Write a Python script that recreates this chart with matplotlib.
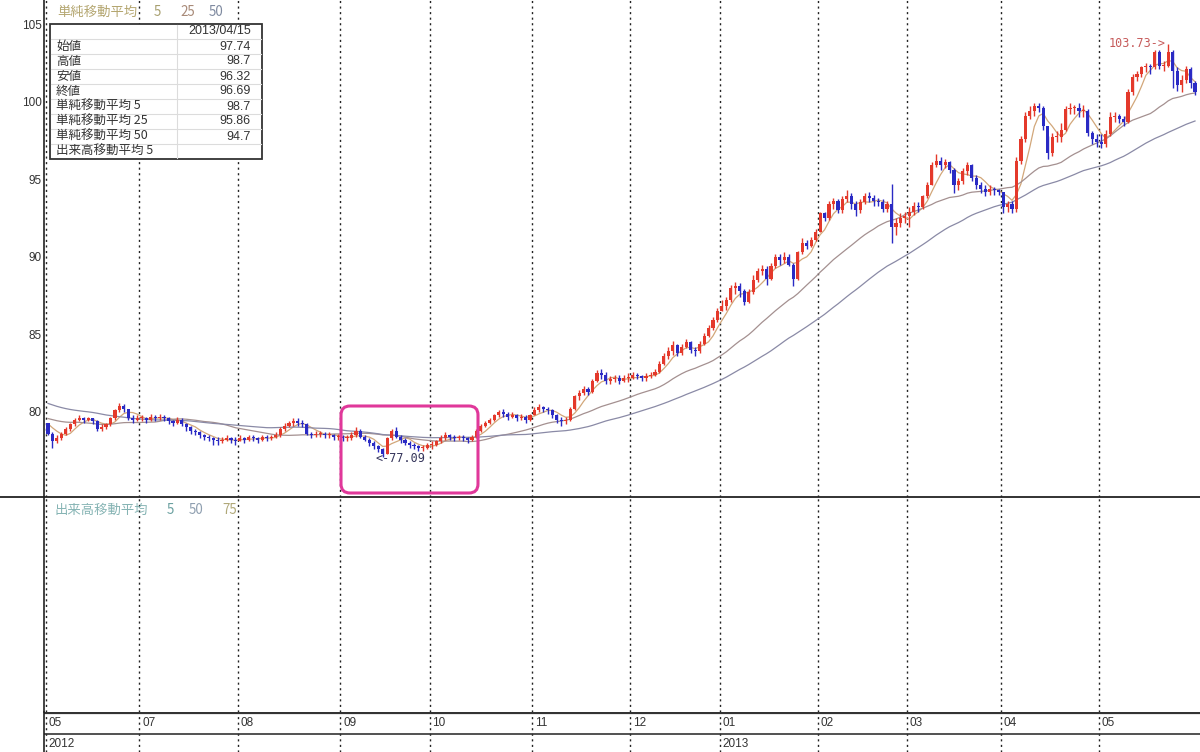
import numpy as np
import pandas as pd
import matplotlib
matplotlib.use('Agg')
import matplotlib.pyplot as plt
from matplotlib.patches import Rectangle, FancyBboxPatch

plt.rcParams['font.family'] = ['Noto Sans CJK JP', 'DejaVu Sans']

# closes before the window (only used to warm up the moving averages)
pre_close = [82.8, 83.0, 82.5, 82.3, 82.0, 81.8, 81.5, 81.3, 81.2, 81.4, 81.3, 81.8,
             82.0, 81.7, 81.9, 82.1, 81.9, 81.7, 81.3, 80.8, 80.6, 80.5, 80.6, 80.3,
             79.8, 79.9, 80.0, 79.9, 79.8, 79.6, 79.3, 79.8, 80.1, 80.2, 80.0, 79.9,
             79.5, 79.3, 79.2, 79.3, 79.4, 79.5, 79.4, 79.5, 79.6, 79.4, 79.4, 79.5, 79.3]

# daily close / high / low, month by month
c_jun = [78.6, 78.1, 78.3, 78.6, 78.9, 79.2, 79.5, 79.6, 79.5, 79.6, 79.4, 78.9, 79.0, 79.2, 79.6, 80.1, 80.4, 80.2, 79.6, 79.5, 79.6]
h_jun = [79.3, 78.7, 78.5, 78.7, 79.0, 79.3, 79.6, 79.8, 79.7, 79.7, 79.6, 79.5, 79.2, 79.3, 79.7, 80.2, 80.6, 80.5, 80.2, 79.8, 79.8]
l_jun = [78.5, 77.7, 78.0, 78.2, 78.5, 78.8, 79.1, 79.4, 79.3, 79.4, 79.2, 78.8, 78.8, 78.9, 79.1, 79.5, 80.0, 80.0, 79.5, 79.3, 79.4]

c_jul = [79.6, 79.5, 79.7, 79.6, 79.7, 79.6, 79.4, 79.3, 79.5, 79.2, 79.0, 78.8, 78.7, 78.5, 78.4, 78.3, 78.2, 78.1, 78.2, 78.3, 78.2, 78.1]
h_jul = [79.8, 79.7, 79.9, 79.8, 79.9, 79.8, 79.7, 79.5, 79.7, 79.6, 79.3, 79.1, 78.9, 78.8, 78.6, 78.5, 78.4, 78.4, 78.4, 78.5, 78.4, 78.4]
l_jul = [79.4, 79.3, 79.4, 79.4, 79.5, 79.4, 79.2, 79.1, 79.2, 79.1, 78.8, 78.6, 78.5, 78.3, 78.2, 78.1, 77.9, 77.9, 78.0, 78.1, 78.0, 77.9]

c_aug = [78.3, 78.2, 78.4, 78.3, 78.2, 78.4, 78.3, 78.4, 78.5, 78.9, 79.1, 79.3, 79.4, 79.3, 79.2, 78.6, 78.5, 78.6, 78.6, 78.5, 78.5, 78.4, 78.4]
h_aug = [78.5, 78.4, 78.5, 78.5, 78.4, 78.5, 78.5, 78.5, 78.7, 79.0, 79.3, 79.4, 79.6, 79.6, 79.5, 79.3, 78.7, 78.8, 78.8, 78.7, 78.7, 78.6, 78.6]
l_aug = [78.1, 78.0, 78.1, 78.1, 78.0, 78.1, 78.1, 78.2, 78.3, 78.4, 78.8, 79.0, 79.1, 79.1, 79.0, 78.5, 78.3, 78.4, 78.4, 78.3, 78.3, 78.2, 78.2]

c_sep = [78.3, 78.3, 78.5, 78.8, 78.4, 78.2, 78.0, 77.8, 77.6, 77.3, 78.3, 78.8, 78.4, 78.2, 78.0, 77.9, 77.8, 77.7, 77.7, 77.9]
h_sep = [78.5, 78.5, 78.7, 79.0, 78.9, 78.5, 78.3, 78.1, 77.9, 77.7, 78.4, 78.9, 79.0, 78.5, 78.3, 78.1, 78.0, 77.9, 77.9, 78.0]
l_sep = [78.1, 78.1, 78.2, 78.4, 78.3, 78.1, 77.8, 77.6, 77.4, 77.09, 77.3, 78.2, 78.3, 78.0, 77.9, 77.7, 77.6, 77.5, 77.5, 77.6]

c_oct = [77.9, 78.1, 78.3, 78.5, 78.4, 78.3, 78.4, 78.3, 78.2, 78.4, 78.8, 79.1, 79.3, 79.5, 79.8, 80.0, 79.9, 79.7, 79.8, 79.6, 79.7, 79.5, 79.8]
h_oct = [78.1, 78.2, 78.5, 78.7, 78.6, 78.5, 78.5, 78.5, 78.4, 78.5, 78.9, 79.2, 79.4, 79.6, 79.9, 80.1, 80.2, 80.0, 80.0, 79.9, 79.9, 79.8, 79.9]
l_oct = [77.6, 77.8, 78.0, 78.2, 78.2, 78.1, 78.2, 78.1, 78.0, 78.1, 78.3, 78.7, 79.0, 79.2, 79.4, 79.7, 79.7, 79.5, 79.6, 79.4, 79.5, 79.3, 79.4]

c_nov = [80.1, 80.3, 80.2, 80.1, 79.8, 79.5, 79.4, 79.5, 80.2, 81.0, 81.2, 81.5, 81.3, 82.0, 82.5, 82.4, 82.0, 82.1, 82.2, 82.0, 82.2, 82.2]
h_nov = [80.3, 80.5, 80.4, 80.3, 80.2, 79.9, 79.7, 79.7, 80.3, 81.1, 81.4, 81.7, 81.6, 82.1, 82.7, 82.8, 82.6, 82.3, 82.4, 82.4, 82.4, 82.5]
l_nov = [79.8, 80.0, 80.0, 79.9, 79.6, 79.3, 79.1, 79.2, 79.4, 80.1, 80.8, 81.1, 81.1, 81.2, 81.9, 82.1, 81.8, 81.8, 81.9, 81.8, 81.9, 81.9]

c_dec = [82.4, 82.3, 82.2, 82.3, 82.4, 82.6, 83.1, 83.6, 83.9, 84.3, 83.8, 84.2, 84.5, 84.0, 83.9, 84.4, 84.9, 85.4, 85.9, 86.5]
h_dec = [82.6, 82.5, 82.4, 82.5, 82.6, 82.8, 83.3, 83.8, 84.2, 84.6, 84.4, 84.4, 84.7, 84.6, 84.2, 84.6, 85.1, 85.6, 86.1, 86.7]
l_dec = [82.1, 82.1, 82.0, 82.0, 82.2, 82.3, 82.5, 83.0, 83.4, 83.7, 83.6, 83.7, 84.1, 83.8, 83.6, 83.8, 84.3, 84.8, 85.3, 85.8]

c_jan = [86.8, 87.2, 88.0, 88.1, 87.8, 87.1, 87.7, 88.5, 89.1, 89.2, 88.6, 89.4, 90.0, 89.8, 90.0, 89.5, 88.6, 90.3, 90.9, 90.7, 91.1, 91.6]
h_jan = [87.2, 87.4, 88.2, 88.4, 88.3, 87.9, 87.9, 88.8, 89.3, 89.5, 89.4, 89.6, 90.2, 90.2, 90.3, 90.2, 89.6, 90.4, 91.2, 91.1, 91.3, 91.8]
l_jan = [86.5, 86.6, 87.1, 87.6, 87.4, 86.9, 87.0, 87.6, 88.4, 88.8, 88.2, 88.5, 89.3, 89.5, 89.6, 89.4, 88.1, 88.5, 90.2, 90.5, 90.6, 91.0]

c_feb = [92.8, 92.5, 93.4, 93.6, 93.0, 93.7, 93.9, 93.4, 93.0, 93.5, 93.9, 93.8, 93.6, 93.5, 93.1, 93.4, 91.9, 92.2, 92.5, 92.6]
h_feb = [92.9, 92.9, 93.6, 93.8, 93.7, 93.9, 94.3, 94.1, 93.6, 93.7, 94.1, 94.2, 94.0, 93.8, 93.7, 93.6, 94.7, 92.5, 92.8, 92.9]
l_feb = [91.6, 92.3, 92.4, 93.1, 92.8, 92.8, 93.5, 93.1, 92.6, 92.8, 93.4, 93.5, 93.3, 93.3, 92.9, 92.9, 90.9, 91.4, 91.9, 92.2]

c_mar = [92.9, 93.3, 93.2, 93.9, 94.6, 95.9, 96.2, 95.9, 96.1, 95.6, 94.6, 94.9, 95.5, 95.9, 95.1, 94.6, 94.4, 94.2, 94.4, 94.3, 94.2]
h_mar = [93.2, 93.5, 93.5, 94.0, 94.8, 96.1, 96.6, 96.4, 96.3, 96.2, 95.7, 95.1, 95.7, 96.1, 96.0, 95.3, 94.8, 94.6, 94.6, 94.5, 94.4]
l_mar = [91.9, 92.7, 92.9, 93.1, 93.8, 94.6, 95.8, 95.6, 95.7, 95.4, 94.1, 94.3, 94.7, 95.3, 94.9, 94.4, 94.1, 93.9, 94.0, 94.0, 94.0]

c_apr = [93.2, 93.4, 93.1, 96.2, 97.6, 99.1, 99.4, 99.7, 99.6, 98.4, 96.7, 97.7, 97.7, 98.2, 99.5, 99.6, 99.6, 99.4, 99.4, 98.0, 97.6, 97.4]
h_apr = [93.9, 93.6, 93.6, 96.4, 97.8, 99.3, 99.7, 99.9, 99.9, 99.7, 97.8, 98.0, 98.1, 98.6, 99.7, 99.9, 99.8, 99.9, 99.8, 99.5, 98.1, 97.9]
l_apr = [92.8, 92.9, 92.8, 92.9, 96.0, 97.4, 98.9, 99.1, 99.3, 98.2, 96.3, 96.5, 97.4, 97.4, 98.1, 99.2, 99.2, 99.0, 99.0, 97.8, 97.3, 97.1]

c_may = [97.3, 97.9, 99.0, 99.1, 98.9, 98.7, 100.6, 101.6, 101.8, 102.2, 102.3, 102.2, 103.2, 102.3, 102.3, 103.2, 102.0, 101.1, 101.4, 102.1, 101.2, 100.6]
h_may = [97.9, 98.2, 99.3, 99.3, 99.2, 99.1, 100.8, 101.8, 102.0, 102.3, 102.5, 102.4, 103.3, 103.3, 102.6, 103.73, 103.3, 102.2, 101.7, 102.3, 102.2, 101.3]
l_may = [97.0, 97.1, 97.8, 98.7, 98.6, 98.4, 98.6, 100.4, 101.3, 101.6, 101.9, 101.8, 102.1, 102.1, 102.0, 102.2, 100.9, 100.7, 100.6, 101.2, 100.9, 100.4]

month_labels = ['05', '07', '08', '09', '10', '11', '12', '01', '02', '03', '04', '05']
year_labels = ['2012', '2013']
year_month = [0, 7]
ma_periods = [5, 25, 50]
price_ticks = [80, 85, 90, 95, 100, 105]

table_labels = ['始値', '高値', '安値', '終値', '単純移動平均 5', '単純移動平均 25', '単純移動平均 50', '出来高移動平均 5']
table_values = ['97.74', '98.7', '96.32', '96.69', '98.7', '95.86', '94.7', '']
table_date = '2013/04/15'

closes_m = [c_jun, c_jul, c_aug, c_sep, c_oct, c_nov, c_dec, c_jan, c_feb, c_mar, c_apr, c_may]
highs_m = [h_jun, h_jul, h_aug, h_sep, h_oct, h_nov, h_dec, h_jan, h_feb, h_mar, h_apr, h_may]
lows_m = [l_jun, l_jul, l_aug, l_sep, l_oct, l_nov, l_dec, l_jan, l_feb, l_mar, l_apr, l_may]

close = np.concatenate(closes_m)
high = np.concatenate(highs_m)
low = np.concatenate(lows_m)
opn = np.r_[pre_close[-1], close[:-1]]
n = len(close)
x = np.arange(n)
bounds = np.r_[0, np.cumsum([len(m) for m in closes_m])[:-1]] - 0.5

full = pd.Series(pre_close + list(close))
mas = {p: full.rolling(p).mean().values[-n:] for p in ma_periods}

W, H = 1200, 752
fig = plt.figure(figsize=(12, 7.52), dpi=100)


def add_px(x0, y0, x1, y1):
    return fig.add_axes([x0 / W, 1 - y1 / H, (x1 - x0) / W, (y1 - y0) / H])


ax = add_px(44, 0, 1200, 497)
axv = add_px(44, 497, 1200, 712)
axd = add_px(44, 712, 1200, 752)

step = (1195 - 48) / (n - 1)
x_left = -(48 - 44) / step
x_right = x_left + (1200 - 44) / step
for a in (ax, axv, axd):
    a.set_xlim(x_left, x_right)
    a.patch.set_alpha(0)
    for s in ('top', 'right', 'bottom'):
        a.spines[s].set_visible(False)
    a.spines['left'].set_color('#222')
    a.spines['left'].set_linewidth(1.2)
    a.set_xticks([])
    for b in bounds:
        a.axvline(b, color='#222', ls=(0, (1.5, 2.5)), lw=1.0, zorder=0)

ax.set_ylim(74.52, 106.55)
ax.set_yticks(price_ticks)
ax.set_yticklabels([str(t) for t in price_ticks], fontsize=8.5, family='Liberation Sans', color='#333')
ax.tick_params(axis='y', length=0, pad=1.5)

# candles
up = close >= opn
colors = np.where(up, '#e4392b', '#2a2ac4')
ax.vlines(x, low, high, colors=colors, lw=1.0, zorder=2)
body = np.maximum(np.abs(close - opn), 0.06)
ax.bar(x, body, bottom=np.minimum(close, opn), width=0.7, color=colors, lw=0, zorder=3)

ma_colors = {5: '#d2a77a', 25: '#a49090', 50: '#8a8aa6'}
for p in ma_periods:
    ax.plot(x, mas[p], color=ma_colors[p], lw=0.9, zorder=1)

i_lo = int(np.argmin(low))
i_hi = int(np.argmax(high))
ax.annotate(f'<-{low[i_lo]:.2f}', xy=(i_lo, low[i_lo]), xytext=(-5, -1), textcoords='offset points',
            ha='left', va='center', fontsize=8.5, family='DejaVu Sans Mono', color='#34345a', zorder=5)
ax.annotate(f'{high[i_hi]:.2f}->', xy=(i_hi, high[i_hi]), xytext=(-2, 0), textcoords='offset points',
            ha='right', va='center', fontsize=8.5, family='DejaVu Sans Mono', color='#c65a5a', zorder=5)

axv.set_yticks([])
axd.set_yticks([])
axd.set_ylim(0, 1)
axd.axhline(0.97, color='#333', lw=1.6)
axd.axhline(0.45, color='#333', lw=1.2)
for b, lab in zip(bounds, month_labels):
    axd.text(b + 0.6, 0.72, lab, fontsize=8.5, family='Liberation Sans', color='#333', va='center', ha='left')
for m, lab in zip(year_month, year_labels):
    axd.text(bounds[m] + 0.6, 0.2, lab, fontsize=8.5, family='Liberation Sans', color='#333', va='center', ha='left')

# overlay in pixel coordinates
ov = fig.add_axes([0, 0, 1, 1])
ov.set_xlim(0, W)
ov.set_ylim(H, 0)
ov.axis('off')
ov.patch.set_alpha(0)

ov.plot([0, W], [497, 497], color='#222', lw=1.3)

ov.text(57, 12, '単純移動平均', fontsize=9.6, color='#b4a670', va='center')
ov.text(154, 12, '5', fontsize=9.6, color='#a8a070', va='center')
ov.text(180, 12, '25', fontsize=9.6, color='#a88a78', va='center')
ov.text(209, 12, '50', fontsize=9.6, color='#7f8aa0', va='center')

ov.text(55, 510, '出来高移動平均', fontsize=9.6, color='#86b4b4', va='center')
ov.text(167, 510, '5', fontsize=9.6, color='#6aa0a0', va='center')
ov.text(189, 510, '50', fontsize=9.6, color='#8f9fb0', va='center')
ov.text(222, 510, '75', fontsize=9.6, color='#b0a878', va='center')

# data window box
ov.add_patch(Rectangle((50, 24), 212, 135, fc='white', ec='#333', lw=1.3, zorder=4))
row_h = 135 / 9
for k in range(1, 9):
    ov.plot([51, 261], [24 + k * row_h] * 2, color='#dcdcdc', lw=0.8, zorder=5)
ov.plot([177, 177], [25, 158], color='#dcdcdc', lw=0.8, zorder=5)
ov.text(251, 24 + row_h / 2, table_date, fontsize=9, family='Liberation Sans', color='#333',
        ha='right', va='center', zorder=6)
for k, (lab, val) in enumerate(zip(table_labels, table_values)):
    yc = 24 + (k + 1.5) * row_h
    ov.text(56, yc, lab, fontsize=9, color='#333', va='center', zorder=6)
    ov.text(251, yc, val, fontsize=9, family='Liberation Sans', color='#333', ha='right', va='center', zorder=6)

ov.add_patch(FancyBboxPatch((341, 406), 137, 87, boxstyle='round,pad=0,rounding_size=9',
                            fc='none', ec='#e0389a', lw=2.2, zorder=6))

fig.savefig('out.png', dpi=100)
